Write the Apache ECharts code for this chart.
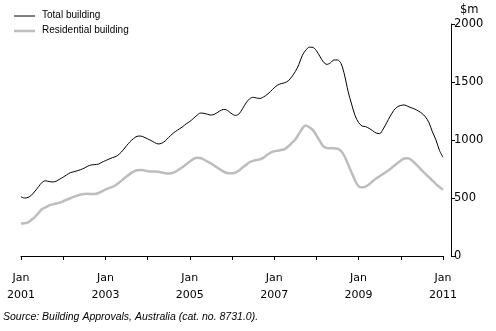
<!DOCTYPE html>
<html>
<head>
<meta charset="utf-8">
<script src="https://cdn.jsdelivr.net/npm/echarts@6/dist/echarts.min.js"></script>
<style>
html,body{margin:0;padding:0;background:#fff;}
#c{width:496px;height:331px;}
</style>
</head>
<body>
<div id="c"></div>
<script>
// Monthly, Jan 2001 .. Jan 2011 ($m, trend)
var categories = [];
for (var y = 2001; y <= 2011; y++) {
  for (var mo = 1; mo <= 12; mo++) {
    if (y === 2011 && mo > 1) break;
    categories.push(y + '-' + (mo < 10 ? '0' + mo : mo));
  }
}
var totalBuilding = [
  510,500,505,525,560,598,635,648,642,638,645,662,
  680,700,718,726,735,745,758,775,785,788,792,808,
  822,835,848,858,880,912,950,985,1012,1032,1034,1024,
  1010,995,978,966,972,992,1022,1052,1075,1095,1115,1140,
  1160,1185,1212,1232,1230,1222,1215,1222,1240,1258,1264,1248,
  1225,1212,1225,1270,1320,1355,1368,1362,1358,1372,1392,1420,
  1450,1474,1486,1494,1510,1545,1590,1650,1730,1775,1800,1798,
  1770,1720,1672,1652,1665,1690,1690,1660,1560,1420,1310,1210,
  1150,1120,1115,1100,1080,1060,1055,1095,1150,1205,1255,1285,
  1298,1302,1290,1278,1266,1250,1230,1200,1150,1070,1000,910,
  850
];
var residentialBuilding = [
  280,282,290,312,338,372,405,420,436,445,453,460,
  472,485,498,510,520,530,535,536,535,534,542,556,
  572,585,596,612,635,660,685,708,728,740,742,738,
  731,729,728,726,720,714,712,716,728,748,768,790,
  815,835,848,845,832,814,798,778,758,738,722,714,
  713,718,738,762,785,808,820,828,834,848,872,892,
  903,908,914,922,945,975,1005,1050,1100,1125,1110,1085,
  1040,990,945,930,928,928,925,905,860,790,720,650,
  600,592,598,618,645,668,688,708,728,750,775,800,
  822,840,842,828,800,770,738,708,680,650,620,595,
  570
];
var yTicks = [0, 500, 1000, 1500, 2000];
var seriesNames = ['Total building', 'Residential building'];
var unitLabel = '$m';
var sourceText = 'Source: Building Approvals, Australia (cat. no. 8731.0).';

var colors = ['#000000', '#bdbdbd'];
var widths = [1, 2.5];

var chart = echarts.init(document.getElementById('c'), null, {renderer: 'canvas'});
var axisFont = 'DejaVu Sans';

var legendGraphics = [];
seriesNames.forEach(function (n, i) {
  var yy = 16 + i * 15;
  legendGraphics.push({type: 'line', shape: {x1: 14, y1: yy, x2: 35, y2: yy},
    style: {stroke: colors[i], lineWidth: widths[i]}});
  legendGraphics.push({type: 'text', left: 42, top: yy - 6,
    style: {text: n, font: '10px "Liberation Sans"', fill: '#000'}});
});

chart.setOption({
  animation: false,
  backgroundColor: '#fff',
  grid: {left: 21, right: 53, top: 24, bottom: 75, containLabel: false},
  xAxis: {
    type: 'category',
    boundaryGap: false,
    data: categories,
    offset: 8,
    axisLine: {lineStyle: {color: '#000', width: 1}},
    axisTick: {show: true, length: 4, lineStyle: {color: '#000'},
      interval: function (i) { return i % 12 === 0; }},
    axisLabel: {
      interval: function (i) { return i % 24 === 0; },
      formatter: function (v) { return 'Jan\n' + v.slice(0, 4); },
      fontFamily: axisFont, fontSize: 11, color: '#000', lineHeight: 17, margin: 6
    },
    splitLine: {show: false}
  },
  yAxis: {
    type: 'value',
    position: 'right',
    offset: 8,
    min: yTicks[0], max: yTicks[yTicks.length - 1], interval: 500,
    axisLine: {show: true, lineStyle: {color: '#000', width: 1}},
    axisTick: {show: true, length: 4, lineStyle: {color: '#000'}},
    axisLabel: {fontFamily: axisFont, fontSize: 11.5, color: '#000', margin: 3,
      formatter: function (v) { return String(v); }},
    splitLine: {show: false}
  },
  graphic: legendGraphics.concat([
    {type: 'text', left: 460, top: 4, style: {text: unitLabel, font: '11.5px "DejaVu Sans"', fill: '#000'}},
    {type: 'text', left: 3, top: 312, style: {text: sourceText, font: 'italic 10.5px "Liberation Sans"', fill: '#000'}}
  ]),
  series: [
    {name: seriesNames[0], type: 'line', data: totalBuilding, symbol: 'none', smooth: 0.3,
     lineStyle: {color: colors[0], width: widths[0]}, itemStyle: {color: colors[0]}, z: 3},
    {name: seriesNames[1], type: 'line', data: residentialBuilding, symbol: 'none', smooth: 0.3,
     lineStyle: {color: colors[1], width: widths[1]}, itemStyle: {color: colors[1]}, z: 2}
  ]
});
</script>
</body>
</html>
